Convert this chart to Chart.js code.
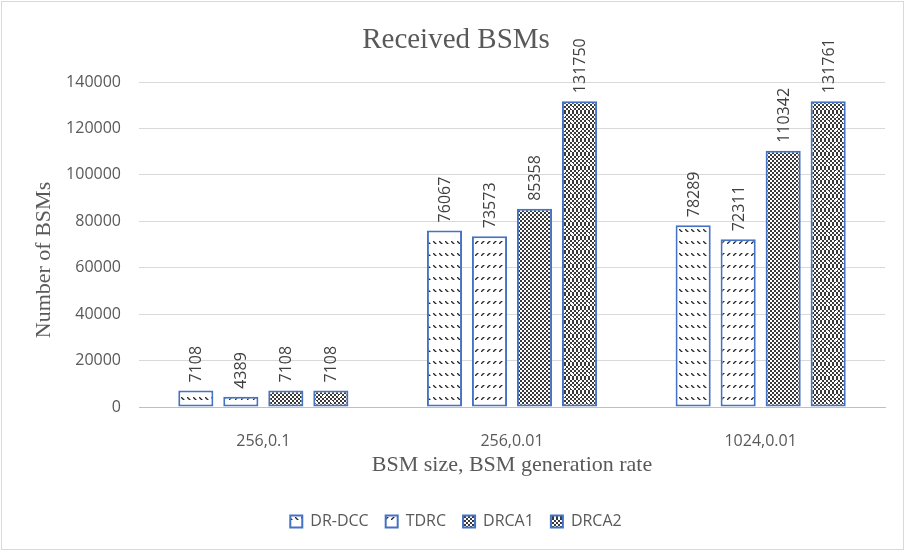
<!DOCTYPE html>
<html>
<head>
<meta charset="utf-8">
<script src="https://cdn.jsdelivr.net/npm/chart.js@4/dist/chart.umd.min.js"></script>
<style>
  html, body { margin: 0; padding: 0; background: #fff; }
  #wrap { position: relative; width: 906px; height: 553px; }
  canvas { display: block; }
</style>
</head>
<body>
<div id="wrap"><canvas id="c" width="906" height="553"></canvas></div>
<script>
// Categories: BSM size, BSM generation rate
const categories = ['256,0.1', '256,0.01', '1024,0.01'];

// Received BSM counts per scheme
const drDcc = [7108, 76067, 78289];
const tdrc  = [4389, 73573, 72311];
const drca1 = [7108, 85358, 110342];
const drca2 = [7108, 131750, 131761];

const seriesNames = ['DR-DCC', 'TDRC', 'DRCA1', 'DRCA2'];

// Value axis range
const yMin = 0, yMax = 140000, yStep = 20000;

const TEXT = '#595959';
const LABEL = '#404040';
const EDGE = '#4472C4';

// ---- fill patterns ----
function tile(w, h, paint) {
  const c = document.createElement('canvas');
  c.width = w; c.height = h;
  const g = c.getContext('2d');
  g.fillStyle = '#fff';
  g.fillRect(0, 0, w, h);
  paint(g);
  return document.getElementById('c').getContext('2d').createPattern(c, 'repeat');
}
function px(g, pts, col) {
  g.fillStyle = col;
  pts.forEach(p => g.fillRect(p[0], p[1], 1, 1));
}
// rows of short "\" dashes
const patDown = tile(6, 12, g => {
  px(g, [[1,1],[2,2],[3,3]], '#2b2b2b');
  px(g, [[2,1],[3,2],[4,3],[1,2],[2,3]], '#9a9a9a');
});
// rows of short "/" dashes
const patUp = tile(6, 12, g => {
  px(g, [[3,1],[2,2],[1,3]], '#2b2b2b');
  px(g, [[4,1],[3,2],[2,3],[2,1],[1,2]], '#9a9a9a');
});
function checker(g, w, h) {
  g.fillStyle = '#3a3a3a';
  for (let y = 0; y < h; y += 2)
    for (let x = 0; x < w; x += 2)
      if (((x + y) / 2) % 2 === 0) g.fillRect(x, y, 2, 2);
}
// dense checkerboard
const patCheck = tile(4, 4, g => checker(g, 4, 4));
// checkerboard with small white crosses
const patCross = tile(16, 14, g => {
  checker(g, 16, 14);
  g.fillStyle = '#fff';
  [[4, 3], [12, 10]].forEach(([cx, cy]) => {
    g.fillRect(cx - 1, cy, 3, 1);
    g.fillRect(cx, cy - 1, 1, 3);
  });
});

const fills = [patDown, patUp, patCheck, patCross];
const values = [drDcc, tdrc, drca1, drca2];

const datasets = seriesNames.map((name, i) => ({
  label: name,
  data: values[i],
  backgroundColor: fills[i],
  borderColor: EDGE,
  borderWidth: 2,
  borderSkipped: false,
  categoryPercentage: 0.724,
  barPercentage: 0.78
}));

// value labels written vertically above each bar
const barLabels = {
  id: 'barLabels',
  afterDatasetsDraw(chart) {
    const ctx = chart.ctx;
    ctx.save();
    ctx.font = '16px "Open Sans"';
    ctx.fillStyle = LABEL;
    ctx.textAlign = 'left';
    ctx.textBaseline = 'middle';
    chart.data.datasets.forEach((ds, di) => {
      const meta = chart.getDatasetMeta(di);
      meta.data.forEach((bar, i) => {
        ctx.save();
        ctx.translate(bar.x, bar.y - 8);
        ctx.rotate(-Math.PI / 2);
        ctx.fillText(String(ds.data[i]), 0, 1);
        ctx.restore();
      });
    });
    ctx.restore();
  }
};

// background, frame and vertical axis title
const frame = {
  id: 'frame',
  beforeDraw(chart) {
    const ctx = chart.ctx;
    ctx.save();
    ctx.fillStyle = '#fff';
    ctx.fillRect(0, 0, chart.width, chart.height);
    ctx.restore();
  },
  afterDraw(chart) {
    const ctx = chart.ctx;
    ctx.save();
    ctx.strokeStyle = '#d9d9d9';
    ctx.lineWidth = 1;
    ctx.strokeRect(1.5, 1.5, 902, 548);
    ctx.translate(44, 260);
    ctx.rotate(-Math.PI / 2);
    ctx.font = '22px "Liberation Serif"';
    ctx.fillStyle = TEXT;
    ctx.textAlign = 'center';
    ctx.textBaseline = 'middle';
    ctx.fillText('Number of BSMs', 0, 0);
    ctx.restore();
  }
};

new Chart(document.getElementById('c'), {
  type: 'bar',
  data: { labels: categories, datasets },
  options: {
    responsive: false,
    animation: false,
    devicePixelRatio: 1,
    layout: { padding: { left: 27, right: 21, top: 8, bottom: 13.5 } },
    plugins: {
      title: {
        display: true,
        text: 'Received BSMs',
        color: TEXT,
        font: { family: '"Liberation Serif"', size: 29, weight: 'normal' },
        padding: { top: 14.6, bottom: 24.6 }
      },
      legend: {
        position: 'bottom',
        labels: {
          color: TEXT,
          font: { family: '"Open Sans"', size: 16 },
          boxWidth: 12,
          boxHeight: 12,
          padding: 17
        }
      },
      tooltip: { enabled: false }
    },
    scales: {
      x: {
        grid: { display: false },
        border: { display: true, color: '#bfbfbf', width: 1 },
        ticks: { color: TEXT, font: { family: '"Open Sans"', size: 16 }, padding: 17 },
        title: {
          display: true,
          text: 'BSM size, BSM generation rate',
          color: TEXT,
          font: { family: '"Liberation Serif"', size: 22 },
          padding: { top: 4, bottom: 18 }
        },
        afterFit(s) { s.height = 89.5; }
      },
      y: {
        min: yMin,
        max: yMax,
        grid: { color: '#d9d9d9', lineWidth: 1, drawTicks: false },
        border: { display: false },
        ticks: {
          stepSize: yStep,
          color: TEXT,
          padding: 18,
          font: { family: '"Open Sans"', size: 16 },
          callback: v => String(v)
        },
        afterFit(s) { s.width = 112; }
      }
    }
  },
  plugins: [barLabels, frame]
});
</script>
</body>
</html>
